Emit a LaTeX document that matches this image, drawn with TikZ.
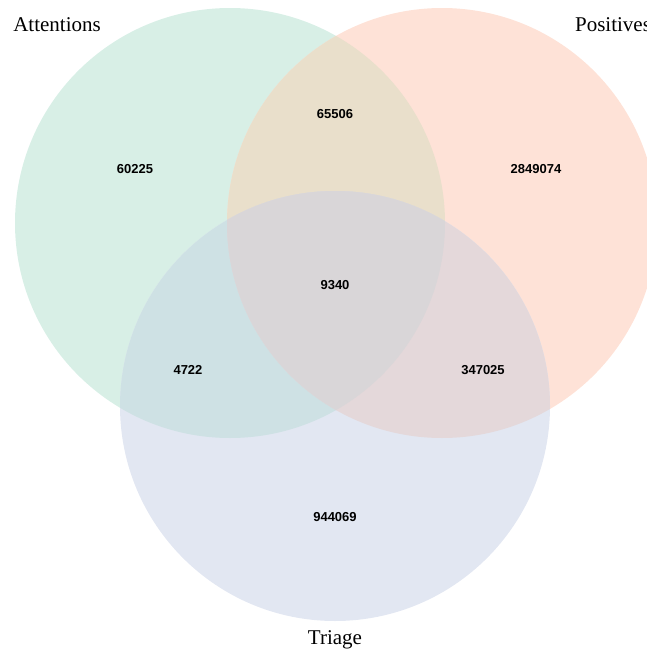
\documentclass[tikz,border=0pt]{standalone}
\usepackage{fontspec}
\setmainfont{Liberation Serif}
\newfontfamily\numfont{Liberation Sans}
\usetikzlibrary{positioning}
\definecolor{vnA}{RGB}{216,239,230}
\definecolor{vnP}{RGB}{254,226,215}
\definecolor{vnT}{RGB}{226,231,242}
\definecolor{vnAP}{RGB}{233,223,203}
\definecolor{vnAT}{RGB}{206,225,228}
\definecolor{vnPT}{RGB}{228,216,218}
\definecolor{vnAPT}{RGB}{217,214,216}
\tikzset{
  setname/.style={font=\fontsize{21}{24}\selectfont, inner sep=0pt},
  count/.style={font=\numfont\bfseries\fontsize{13}{15}\selectfont, inner sep=0pt}
}
\begin{document}
\begin{tikzpicture}[x=1pt, y=-1pt]
  \useasboundingbox (0,0) rectangle (647,653);
  \begin{scope}
    \clip (0,0) rectangle (647,653);
    % set discs
    \coordinate (cAtt) at (230,223);
    \coordinate (cPos) at (442,223);
    \coordinate (cTri) at (335,406);
    \fill[vnA] (cAtt) circle[radius=215];
    \fill[vnP] (cPos) circle[radius=215];
    \fill[vnT] (cTri) circle[radius=215];
    % overlaps
    \begin{scope}
      \clip (cAtt) circle[radius=215];
      \fill[vnAP] (cPos) circle[radius=215];
      \fill[vnAT] (cTri) circle[radius=215];
    \end{scope}
    \begin{scope}
      \clip (cPos) circle[radius=215];
      \fill[vnPT] (cTri) circle[radius=215];
      \clip (cAtt) circle[radius=215];
      \fill[vnAPT] (cTri) circle[radius=215];
    \end{scope}
    % set names
    \node[setname] (att) at (57,25) {Attentions};
    \node[setname] (pos) at (613,25) {Positives};
    \node[setname] (tri) at (335,640) {Triage};
  \end{scope}
  % region counts
  \node[count] (nA)   at (135,169) {60225};
  \node[count] (nAP)  at (335,114) {65506};
  \node[count] (nP)   at (536,169) {2849074};
  \node[count] (nAPT) at (335,285) {9340};
  \node[count] (nAT)  at (188,370) {4722};
  \node[count] (nPT)  at (483,370) {347025};
  \node[count] (nT)   at (335,517) {944069};
\end{tikzpicture}
\end{document}
